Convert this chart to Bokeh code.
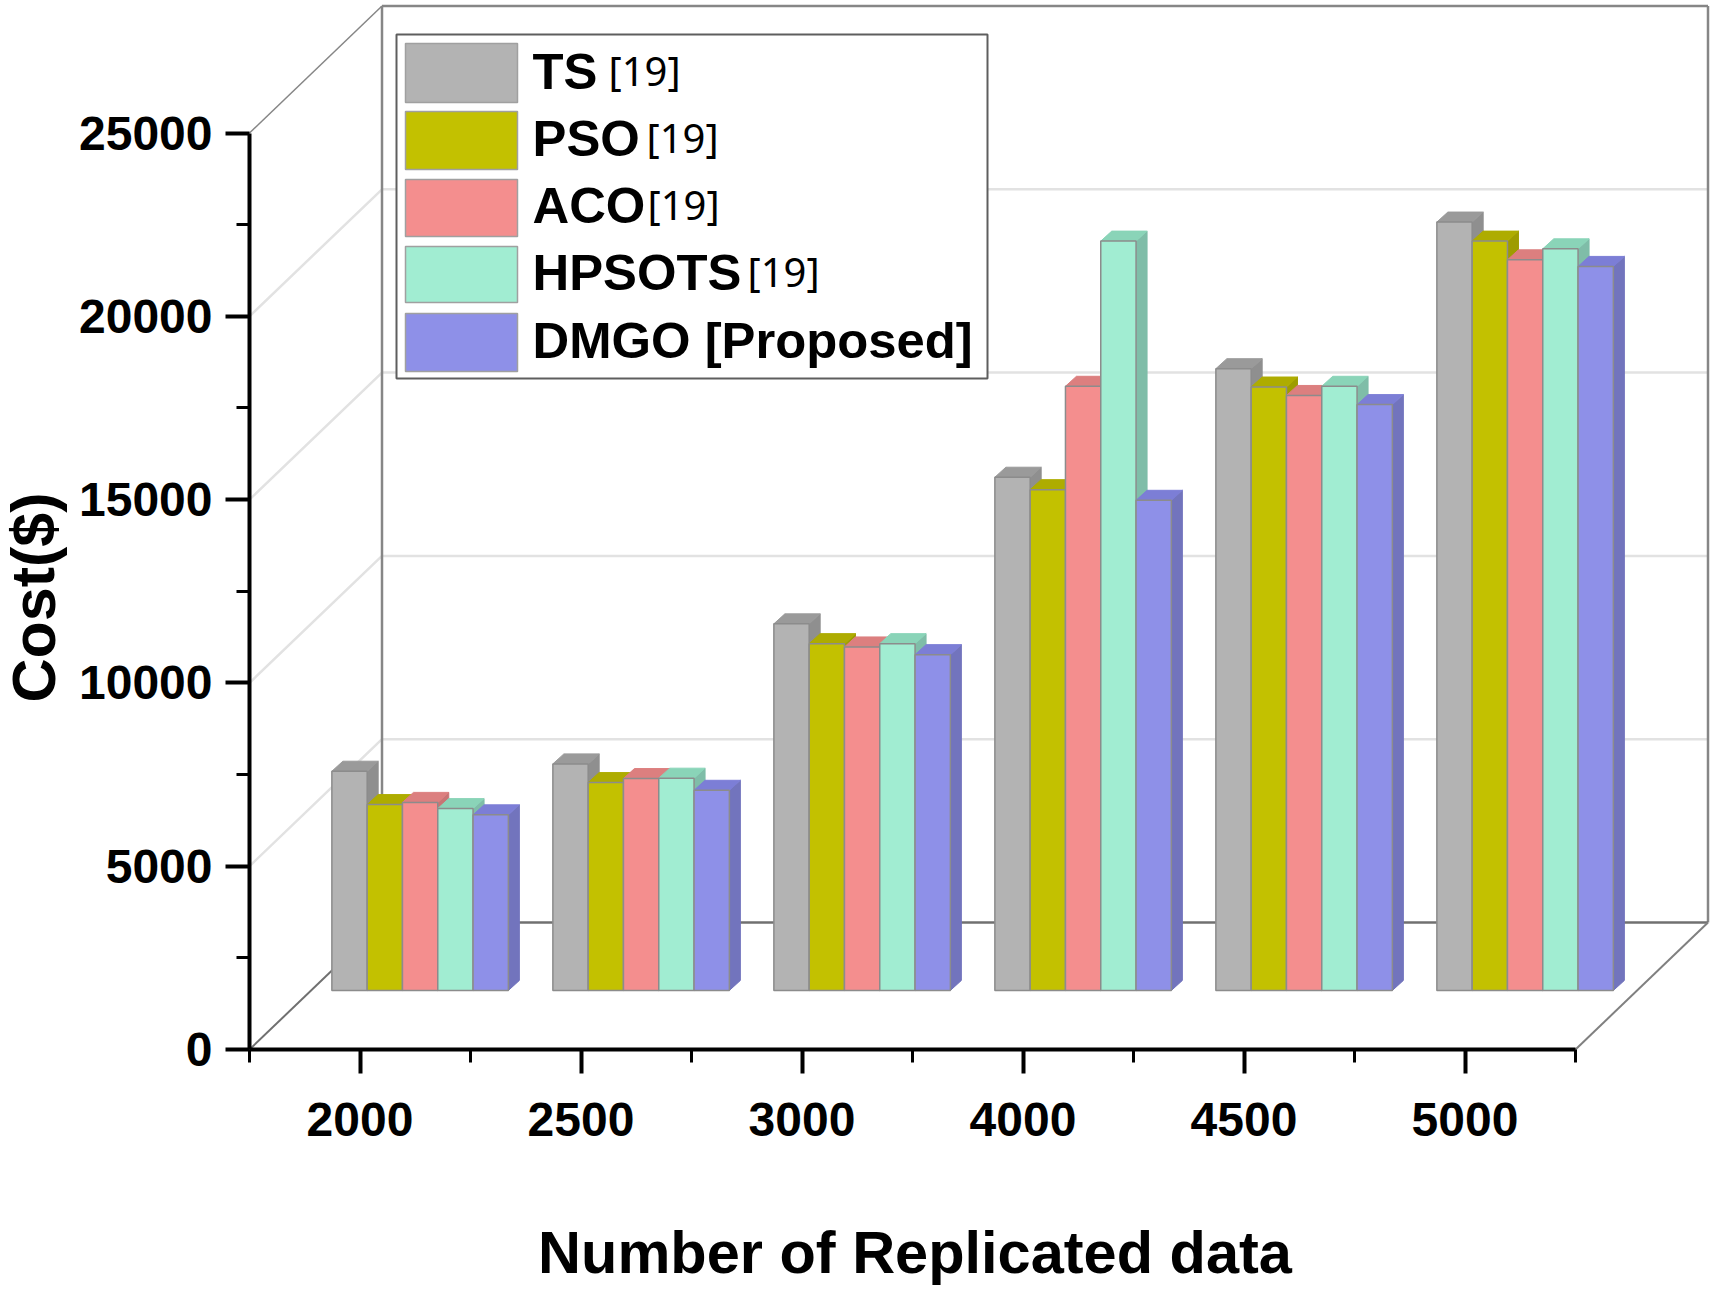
from bokeh.plotting import figure
from bokeh.models import FixedTicker, Label, NumeralTickFormatter, Range1d
from bokeh.core.properties import value
from bokeh.embed import file_html
from bokeh.resources import INLINE

categories = ["2000", "2500", "3000", "4000", "4500", "5000"]
series_names = ["TS", "PSO", "ACO", "HPSOTS", "DMGO [Proposed]"]
series_refs = ["[19]", "[19]", "[19]", "[19]", ""]
ts = [5980, 6180, 10000, 14000, 16960, 20960]
pso = [5070, 5670, 9460, 13660, 16460, 20440]
aco = [5130, 5780, 9370, 16480, 16230, 19930]
hpsots = [4960, 5790, 9460, 20440, 16480, 20230]
dmgo = [4790, 5460, 9160, 13370, 15980, 19750]
series_values = [ts, pso, aco, hpsots, dmgo]
front_colors = ["#b3b3b3", "#c3c100", "#f48e8e", "#a1edd2", "#8e90e8"]
top_colors = ["#9a9a9a", "#aeac00", "#dc7f7f", "#8ad4b8", "#7c7ed6"]
side_colors = ["#8f8f8f", "#9e9c00", "#c87474", "#7fbda8", "#7274bd"]
y_ticks = [0, 5000, 10000, 15000, 20000, 25000]
y_minor = [2500, 7500, 12500, 17500, 22500]

# The frame fills the canvas; the axes are pinned inside it at their data positions.
WIDTH, HEIGHT = 1715, 1289
AXIS_X, AXIS_Y = 249, 1049
PX_PER_CAT, PX_PER_VAL = 221.0, 183.3 / 5000

def X(px):
    return -0.5 + (px - AXIS_X) / PX_PER_CAT

def Y(py):
    return (AXIS_Y - py) / PX_PER_VAL

DEPTH_X, DEPTH_Y = 132.5 / PX_PER_CAT, 127 / PX_PER_VAL
BAR_F = 0.465
BAR_SHIFT = -1.5 / PX_PER_CAT
BAR_W = 35.3 / PX_PER_CAT
BAR_DX, BAR_DY = 11 / PX_PER_CAT, 10 / PX_PER_VAL
LEFT, RIGHT, TOP = -0.5, 5.5, 25000

p = figure(width=WIDTH, height=HEIGHT, output_backend="svg", toolbar_location=None,
           x_range=Range1d(X(0), X(WIDTH)), y_range=Range1d(Y(HEIGHT), Y(0)),
           min_border_left=0, min_border_right=0, min_border_top=0, min_border_bottom=0)
p.outline_line_color = None
p.grid.visible = False
p.background_fill_color = "white"

# axes
FONT = "Liberation Sans"
xa = p.xaxis[0]
xa.fixed_location = 0
xa.ticker = FixedTicker(ticks=list(range(len(categories))),
                        minor_ticks=[i - 0.5 for i in range(len(categories) + 1)])
xa.major_label_overrides = {i: c for i, c in enumerate(categories)}
xa.bounds = (LEFT, RIGHT)
xa.major_label_standoff = 29
ya = p.yaxis[0]
ya.fixed_location = LEFT
ya.ticker = FixedTicker(ticks=y_ticks, minor_ticks=y_minor)
ya.formatter = NumeralTickFormatter(format="0")
ya.bounds = (0, TOP)
ya.major_label_standoff = 13
for a in (xa, ya):
    a.axis_line_color = "black"
    a.axis_line_width = 4
    a.major_tick_line_color = "black"
    a.major_tick_line_width = 4
    a.major_tick_in = 0
    a.major_tick_out = 24
    a.minor_tick_line_color = "black"
    a.minor_tick_line_width = 3
    a.minor_tick_in = 0
    a.minor_tick_out = 13
    a.major_label_text_font = FONT
    a.major_label_text_font_style = "bold"
    a.major_label_text_font_size = "48px"
    a.major_label_text_color = "black"

# walls and gridlines
for v in y_ticks[1:-1]:
    p.line([LEFT, LEFT + DEPTH_X, RIGHT + DEPTH_X], [v, v + DEPTH_Y, v + DEPTH_Y],
           line_color="#e2e2e2", line_width=2.5)
wall = "#868686"
p.line([LEFT + DEPTH_X] * 2, [DEPTH_Y, TOP + DEPTH_Y], line_color=wall, line_width=2.5)
p.line([RIGHT + DEPTH_X] * 2, [DEPTH_Y, TOP + DEPTH_Y], line_color=wall, line_width=2.5)
p.line([LEFT + DEPTH_X, RIGHT + DEPTH_X], [TOP + DEPTH_Y] * 2, line_color=wall, line_width=2.5)
p.line([LEFT, LEFT + DEPTH_X], [TOP, TOP + DEPTH_Y], line_color=wall, line_width=1.5)
p.line([LEFT + DEPTH_X, RIGHT + DEPTH_X], [DEPTH_Y] * 2, line_color="#707070", line_width=2.5)
p.line([LEFT, LEFT + DEPTH_X], [0, DEPTH_Y], line_color="#707070", line_width=2)
p.line([RIGHT, RIGHT + DEPTH_X], [0, DEPTH_Y], line_color="#808080", line_width=2)

# 3D bars, drawn left to right so that each one hides its neighbour's side
n_series = len(series_values)
x0 = BAR_F * DEPTH_X + BAR_SHIFT
y0 = BAR_F * DEPTH_Y
edge = "#8c8c8c"
for g in range(len(categories)):
    for s in range(n_series):
        v = series_values[s][g]
        l = g + x0 + (s - n_series / 2) * BAR_W
        r = l + BAR_W
        b = y0
        t = y0 + v
        dx, dy = BAR_DX, BAR_DY
        p.patch([r, r + dx, r + dx, r], [b, b + dy, t + dy, t],
                fill_color=side_colors[s], line_color=side_colors[s], line_width=1)
        p.patch([l, r, r + dx, l + dx], [t, t, t + dy, t + dy],
                fill_color=top_colors[s], line_color=top_colors[s], line_width=1)
        p.quad(left=l, right=r, bottom=b, top=t, fill_color=front_colors[s],
               line_color=edge, line_width=1.5)

# hand-placed legend, since its labels mix two fonts
p.quad(left=X(396), right=X(987), top=Y(34), bottom=Y(378), fill_color="white",
       line_color="#5e5e5e", line_width=2)
swatch_tops = [43, 111, 179, 246, 313]
swatch_bottoms = [102, 169, 236, 302, 371]
label_mids = [71, 138, 205, 272, 340]
ref_lefts = [608, 646, 647, 747, 0]
for s, name in enumerate(series_names):
    p.quad(left=X(405), right=X(517), top=Y(swatch_tops[s]), bottom=Y(swatch_bottoms[s]),
           fill_color=front_colors[s], line_color="#a0a0a0", line_width=1.5)
    p.text(x=[X(532)], y=[Y(label_mids[s])], text=[name], text_font=value(FONT),
           text_font_style="bold", text_font_size="50.8px", text_color="black",
           text_baseline="middle", text_align="left")
    if series_refs[s]:
        p.text(x=[X(ref_lefts[s])], y=[Y(label_mids[s] - 1)], text=[series_refs[s]],
               text_font=value("Noto Sans"), text_font_size="40px", text_color="black",
               text_baseline="middle", text_align="left")

# axis titles, centred on the drawn axis rather than the whole frame
p.add_layout(Label(x=X(914.5), y=Y(1252), text="Number of Replicated data",
                   text_font=FONT, text_font_style="bold", text_font_size="59.5px",
                   text_color="black", text_align="center", text_baseline="middle"))
p.add_layout(Label(x=X(33), y=Y(597), text="Cost($)", angle=1.5708, angle_units="rad",
                   text_font=FONT, text_font_style="bold", text_font_size="61px",
                   text_color="black", text_align="center", text_baseline="middle"))

open("out.html", "w").write(file_html(p, INLINE))
